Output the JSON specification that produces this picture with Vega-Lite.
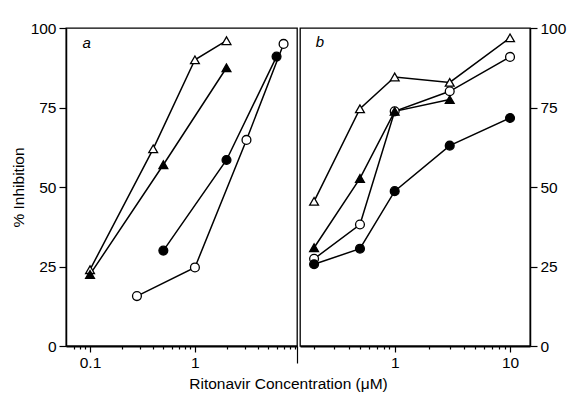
{
  "$schema": "https://vega.github.io/schema/vega-lite/v6.json",
  "padding": {"left": 10, "top": 20, "right": 2, "bottom": 5},
  "background": "white",
  "datasets": {
    "pts": [
      {"panel": "a", "series": "open triangle", "x": 0.1, "y": 24},
      {"panel": "a", "series": "open triangle", "x": 0.4, "y": 62},
      {"panel": "a", "series": "open triangle", "x": 1, "y": 90},
      {"panel": "a", "series": "open triangle", "x": 2, "y": 96},
      {"panel": "a", "series": "filled triangle", "x": 0.1, "y": 22.5},
      {"panel": "a", "series": "filled triangle", "x": 0.5, "y": 57},
      {"panel": "a", "series": "filled triangle", "x": 2, "y": 87.5},
      {"panel": "a", "series": "filled circle", "x": 0.5, "y": 30},
      {"panel": "a", "series": "filled circle", "x": 2, "y": 58.5},
      {"panel": "a", "series": "filled circle", "x": 6, "y": 91},
      {"panel": "a", "series": "open circle", "x": 0.28, "y": 15.7},
      {"panel": "a", "series": "open circle", "x": 1, "y": 24.7},
      {"panel": "a", "series": "open circle", "x": 3.1, "y": 64.8},
      {"panel": "a", "series": "open circle", "x": 7, "y": 95},
      {"panel": "b", "series": "open triangle", "x": 0.2, "y": 45.5},
      {"panel": "b", "series": "open triangle", "x": 0.5, "y": 74.6},
      {"panel": "b", "series": "open triangle", "x": 1, "y": 84.6},
      {"panel": "b", "series": "open triangle", "x": 3, "y": 82.9},
      {"panel": "b", "series": "open triangle", "x": 10, "y": 96.9},
      {"panel": "b", "series": "open circle", "x": 0.2, "y": 27.4},
      {"panel": "b", "series": "open circle", "x": 0.5, "y": 38.2},
      {"panel": "b", "series": "open circle", "x": 1, "y": 73.8},
      {"panel": "b", "series": "open circle", "x": 3, "y": 80.1},
      {"panel": "b", "series": "open circle", "x": 10, "y": 90.9},
      {"panel": "b", "series": "filled circle", "x": 0.2, "y": 25.7},
      {"panel": "b", "series": "filled circle", "x": 0.5, "y": 30.6},
      {"panel": "b", "series": "filled circle", "x": 1, "y": 48.7},
      {"panel": "b", "series": "filled circle", "x": 3, "y": 63},
      {"panel": "b", "series": "filled circle", "x": 10, "y": 71.7},
      {"panel": "b", "series": "filled triangle", "x": 0.2, "y": 30.9},
      {"panel": "b", "series": "filled triangle", "x": 0.5, "y": 52.7},
      {"panel": "b", "series": "filled triangle", "x": 1, "y": 73.8},
      {"panel": "b", "series": "filled triangle", "x": 3, "y": 77.5}
    ],
    "labels": [
      {"panel": "a", "x": 0.093, "y": 95.2, "label": "a"},
      {"panel": "b", "x": 0.225, "y": 95.5, "label": "b"}
    ]
  },
  "title": {
    "text": "Ritonavir Concentration (μM)",
    "orient": "bottom",
    "anchor": "middle",
    "fontSize": 15.5,
    "fontWeight": "normal",
    "font": "Liberation Sans",
    "color": "black",
    "offset": 6
  },
  "hconcat": [
    {
      "width": 231,
      "height": 318,
      "layer": [
        {
          "data": {"name": "pts"},
          "transform": [{"filter": "datum.panel === 'a'"}],
          "mark": {"type": "line", "color": "black", "strokeWidth": 1.5},
          "encoding": {
            "x": {"field": "x", "type": "quantitative", "scale": {"type": "log", "domain": [0.059, 9.4], "nice": false},
              "axis": {
                "title": null,
                "values": [0.07, 0.08, 0.09, 0.1, 0.2, 0.3, 0.4, 0.5, 0.6, 0.7, 0.8, 0.9, 1, 2, 3, 4, 5, 6, 7, 8, 9, 9.4],
                "labelExpr": "datum.value === 0.1 ? '0.1' : (datum.value === 1 ? '1' : '')",
                "tickSize": {"condition": [{"test": "datum.value === 9.4", "value": 17}, {"test": "datum.value === 0.1 || datum.value === 1", "value": 6}], "value": 3}
              }
            },
            "y": {"field": "y", "type": "quantitative", "scale": {"domain": [0, 100], "nice": false},
              "axis": {"title": "% Inhibition", "values": [0, 25, 50, 75, 100], "orient": "left"}
            },
            "detail": {"field": "series"}
          }
        },
        {
          "data": {"name": "pts"},
          "transform": [{"filter": "datum.panel === 'a'"}],
          "mark": {"type": "point", "filled": true, "stroke": "black", "strokeWidth": 1.3, "size": 78, "opacity": 1},
          "encoding": {
            "x": {"field": "x", "type": "quantitative"},
            "y": {"field": "y", "type": "quantitative"},
            "shape": {"field": "series", "scale": {"domain": ["open triangle", "filled triangle", "open circle", "filled circle"], "range": ["triangle-up", "triangle-up", "circle", "circle"]}, "legend": null},
            "fill": {"field": "series", "scale": {"domain": ["open triangle", "filled triangle", "open circle", "filled circle"], "range": ["white", "black", "white", "black"]}, "legend": null}
          }
        },
        {
          "data": {"name": "labels"},
          "transform": [{"filter": "datum.panel === 'a'"}],
          "mark": {"type": "text", "fontStyle": "italic", "fontSize": 15, "font": "Liberation Sans", "color": "black", "baseline": "middle", "align": "center"},
          "encoding": {
            "x": {"field": "x", "type": "quantitative"},
            "y": {"field": "y", "type": "quantitative"},
            "text": {"field": "label"}
          }
        }
      ]
    },
    {
      "width": 230,
      "height": 318,
      "layer": [
        {
          "data": {"name": "pts"},
          "transform": [{"filter": "datum.panel === 'b'"}],
          "mark": {"type": "line", "color": "black", "strokeWidth": 1.5},
          "encoding": {
            "x": {"field": "x", "type": "quantitative", "scale": {"type": "log", "domain": [0.151, 14.9], "nice": false},
              "axis": {
                "title": null,
                "values": [0.2, 0.3, 0.4, 0.5, 0.6, 0.7, 0.8, 0.9, 1, 2, 3, 4, 5, 6, 7, 8, 9, 10],
                "labelExpr": "datum.value === 1 ? '1' : (datum.value === 10 ? '10' : '')",
                "tickSize": {"condition": {"test": "datum.value === 10 || datum.value === 1", "value": 6}, "value": 3}
              }
            },
            "y": {"field": "y", "type": "quantitative", "scale": {"domain": [0, 100], "nice": false},
              "axis": {"title": null, "values": [0, 25, 50, 75, 100], "orient": "right"}
            },
            "detail": {"field": "series"}
          }
        },
        {
          "data": {"name": "pts"},
          "transform": [{"filter": "datum.panel === 'b'"}],
          "mark": {"type": "point", "filled": true, "stroke": "black", "strokeWidth": 1.3, "size": 78, "opacity": 1},
          "encoding": {
            "x": {"field": "x", "type": "quantitative"},
            "y": {"field": "y", "type": "quantitative"},
            "shape": {"field": "series", "scale": {"domain": ["open triangle", "filled triangle", "open circle", "filled circle"], "range": ["triangle-up", "triangle-up", "circle", "circle"]}, "legend": null},
            "fill": {"field": "series", "scale": {"domain": ["open triangle", "filled triangle", "open circle", "filled circle"], "range": ["white", "black", "white", "black"]}, "legend": null}
          }
        },
        {
          "data": {"name": "labels"},
          "transform": [{"filter": "datum.panel === 'b'"}],
          "mark": {"type": "text", "fontStyle": "italic", "fontSize": 15, "font": "Liberation Sans", "color": "black", "baseline": "middle", "align": "center"},
          "encoding": {
            "x": {"field": "x", "type": "quantitative"},
            "y": {"field": "y", "type": "quantitative"},
            "text": {"field": "label"}
          }
        }
      ]
    }
  ],
  "resolve": {"scale": {"x": "independent", "y": "independent", "shape": "shared", "fill": "shared"}},
  "spacing": 0,
  "config": {
    "view": {"stroke": "black", "strokeWidth": 1.3},
    "font": "Liberation Sans",
    "axis": {
      "grid": false,
      "domainColor": "black",
      "domainWidth": 1.5,
      "tickColor": "black",
      "tickWidth": 1.2,
      "labelColor": "black",
      "labelFont": "Liberation Sans",
      "labelFontSize": 15.5,
      "labelPadding": 3,
      "titleFont": "Liberation Sans",
      "titleFontSize": 15.5,
      "titleFontWeight": "normal",
      "titleColor": "black",
      "titlePadding": 4
    },
    "axisY": {"tickSize": 7},
    "axisX": {"domainWidth": 2.2, "labelPadding": 3}
  }
}
